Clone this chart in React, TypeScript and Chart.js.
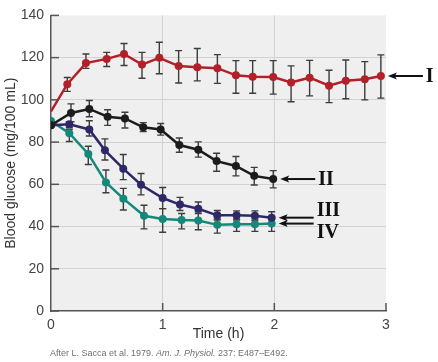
import React, { useEffect, useRef } from "react";
import { Chart, registerables } from "chart.js";

Chart.register(...registerables);

// Time (h) and blood glucose (mg/100 mL) with SEM bounds
const timesI = [0, 0.146, 0.313, 0.499, 0.654, 0.815, 0.97, 1.143, 1.31, 1.49, 1.656, 1.806, 1.99, 2.15, 2.316, 2.49, 2.64, 2.81, 2.954];
const valuesI = [94.5, 107.4, 117.4, 119.4, 121.7, 116.7, 119.9, 116.0, 115.5, 115.0, 111.6, 111.0, 110.8, 108.2, 110.5, 106.7, 109.0, 109.8, 111.3];
const upperI = [null, 110.6, 121.7, 122.5, 126.7, 122.5, 127.3, 123.3, 124.3, 121.4, 118.6, 118.6, 118.6, 116.1, 118.7, 114.0, 118.9, 118.1, 121.3];
const lowerI = [null, 104.0, 114.9, 115.8, 116.3, 110.2, 112.4, 108.0, 109.0, 107.8, 103.1, 103.1, 102.7, 99.1, 101.9, 98.7, 100.5, 100.0, 100.8];

const timesII = [0, 0.179, 0.343, 0.507, 0.662, 0.826, 0.982, 1.149, 1.319, 1.483, 1.656, 1.82, 1.99];
const valuesII = [88, 93.8, 95.7, 92.0, 91.2, 87.0, 86.0, 78.6, 76.4, 71.0, 68.7, 64.0, 62.5];
const upperII = [null, 98.1, 99.7, 95.3, 94.1, 89.2, 88.8, 81.9, 80.1, 74.7, 73.2, 68.0, 66.5];
const lowerII = [null, 89.6, 92.0, 87.9, 86.7, 85.0, 83.3, 75.2, 72.9, 66.2, 64.0, 59.7, 58.3];

const timesIII = [0, 0.164, 0.343, 0.483, 0.647, 0.806, 1.0, 1.155, 1.319, 1.489, 1.662, 1.826, 1.976];
const valuesIII = [88, 88.4, 86.0, 76.1, 67.4, 59.8, 53.5, 50.4, 48.4, 45.3, 45.3, 45.1, 44.2];
const upperIII = [null, 89.6, 90.1, 81.5, 74.1, 65.1, 58.5, 53.8, 51.6, 47.6, 47.4, 47.4, 47.0];
const lowerIII = [null, 86.8, 82.9, 71.5, 62.2, 55.0, 48.5, 47.6, 47.0, 43.1, 43.1, 42.8, 41.7];

const timesIV = [0, 0.164, 0.334, 0.492, 0.648, 0.833, 1.0, 1.17, 1.319, 1.489, 1.662, 1.826, 1.976];
const valuesIV = [90, 84.2, 74.4, 60.9, 53.2, 45.1, 43.6, 43.1, 42.9, 40.8, 41.1, 41.1, 41.4];
const upperIV = [null, 86.0, 78.0, 66.8, 58.1, 50.1, 48.5, 46.2, 46.2, 43.6, 43.6, 43.6, 43.9];
const lowerIV = [null, 80.3, 69.4, 56.0, 47.8, 38.9, 37.3, 38.9, 38.5, 36.9, 37.7, 37.7, 37.7];

const seriesLabels = ["I", "II", "III", "IV"];
const seriesColors = ["#b3202a", "#1c1c1c", "#2e2868", "#14897a"];
const labelShift = [0, 0, -8, 8];

const yTitle = "Blood glucose (mg/100 mL)";
const xTitle = "Time (h)";
const captionParts = [
  { text: "After L. Sacca et al. 1979. ", italic: false },
  { text: "Am. J. Physiol.", italic: true },
  { text: " 237: E487\u2013E492.", italic: false },
];

const seriesTimes = [timesI, timesII, timesIII, timesIV];
const seriesValues = [valuesI, valuesII, valuesIII, valuesIV];
const seriesUpper = [upperI, upperII, upperIII, upperIV];
const seriesLower = [lowerI, lowerII, lowerIII, lowerIV];

const bgPlugin = {
  id: "plotBg",
  beforeDraw(chart: any) {
    const { ctx, chartArea } = chart;
    ctx.save();
    ctx.fillStyle = "#efefef";
    ctx.fillRect(chartArea.left, chartArea.top, chartArea.right - chartArea.left, chartArea.bottom - chartArea.top);
    ctx.restore();
  },
};

const errorBarPlugin = {
  id: "errorBars",
  beforeDatasetsDraw(chart: any) {
    const { ctx } = chart;
    const yScale = chart.scales.y;
    ctx.save();
    ctx.strokeStyle = "#3c3c3c";
    ctx.lineWidth = 1.4;
    chart.data.datasets.forEach((ds: any, di: number) => {
      const meta = chart.getDatasetMeta(di);
      meta.data.forEach((pt: any, i: number) => {
        const up = ds.upper[i];
        const lo = ds.lower[i];
        if (up == null || lo == null) return;
        const x = pt.x;
        const y1 = yScale.getPixelForValue(up);
        const y2 = yScale.getPixelForValue(lo);
        ctx.beginPath();
        ctx.moveTo(x, y1);
        ctx.lineTo(x, y2);
        ctx.moveTo(x - 3.5, y1);
        ctx.lineTo(x + 3.5, y1);
        ctx.moveTo(x - 3.5, y2);
        ctx.lineTo(x + 3.5, y2);
        ctx.stroke();
      });
    });
    ctx.restore();
  },
};

const decorPlugin = {
  id: "decor",
  afterDraw(chart: any) {
    const { ctx, chartArea } = chart;
    const xs = chart.scales.x;
    const ys = chart.scales.y;
    ctx.save();
    // inward tick marks
    ctx.strokeStyle = "#555";
    ctx.lineWidth = 1.5;
    ys.ticks.forEach((t: any) => {
      const y = ys.getPixelForValue(t.value);
      ctx.beginPath();
      ctx.moveTo(chartArea.left, y);
      ctx.lineTo(chartArea.left + 8, y);
      ctx.stroke();
    });
    xs.ticks.forEach((t: any) => {
      if (t.value === 0) return;
      const x = xs.getPixelForValue(t.value);
      ctx.beginPath();
      ctx.moveTo(x, chartArea.bottom);
      ctx.lineTo(x, chartArea.bottom - 8);
      ctx.stroke();
    });
    // arrows with labels
    chart.data.datasets.forEach((ds: any, di: number) => {
      const meta = chart.getDatasetMeta(di);
      const last = meta.data[meta.data.length - 1];
      const tipX = last.x + 7;
      const tailX = tipX + 35;
      const y = last.y;
      ctx.strokeStyle = "#111";
      ctx.fillStyle = "#111";
      ctx.lineWidth = 2;
      ctx.beginPath();
      ctx.moveTo(tipX + 6, y);
      ctx.lineTo(tailX, y);
      ctx.stroke();
      ctx.beginPath();
      ctx.moveTo(tipX, y);
      ctx.lineTo(tipX + 9, y - 3.5);
      ctx.lineTo(tipX + 7, y);
      ctx.lineTo(tipX + 9, y + 3.5);
      ctx.closePath();
      ctx.fill();
      ctx.font = "bold 20px 'Liberation Serif', 'Times New Roman', serif";
      ctx.textAlign = "left";
      ctx.textBaseline = "middle";
      ctx.fillText(ds.label, tailX + 3, y + labelShift[di] + 1);
    });
    // caption
    let cx = 50;
    const cy = 353;
    ctx.fillStyle = "#707070";
    ctx.textBaseline = "alphabetic";
    ctx.textAlign = "left";
    captionParts.forEach((p) => {
      ctx.font = `${p.italic ? "italic " : ""}9px 'Liberation Sans', Arial, sans-serif`;
      ctx.fillText(p.text, cx, cy + 3);
      cx += ctx.measureText(p.text).width;
    });
    ctx.restore();
  },
};

export default function App() {
  const canvasRef = useRef<HTMLCanvasElement | null>(null);

  useEffect(() => {
    if (!canvasRef.current) return;
    const datasets = seriesLabels.map((label, si) => ({
      label,
      data: seriesTimes[si].map((t, i) => ({ x: t, y: seriesValues[si][i] })),
      upper: seriesUpper[si],
      lower: seriesLower[si],
      borderColor: seriesColors[si],
      backgroundColor: seriesColors[si],
      borderWidth: 2.5,
      pointRadius: seriesTimes[si].map((_, i) => (si === 0 && i === 0 ? 0 : 4)),
      pointBorderWidth: 0,
      pointHoverRadius: 4,
      tension: 0,
      fill: false,
      clip: 0,
    }));
    const chart = new Chart(canvasRef.current, {
      type: "line",
      data: { datasets } as any,
      options: {
        animation: false,
        responsive: false,
        maintainAspectRatio: false,
        layout: { padding: { top: 10, right: 52, left: 0, bottom: 0 } },
        plugins: {
          legend: { display: false },
          tooltip: { enabled: false },
        },
        scales: {
          x: {
            type: "linear",
            min: 0,
            max: 3,
            afterFit: (s: any) => {
              s.height = 51;
            },
            ticks: {
              stepSize: 1,
              padding: 6,
              color: "#444",
              font: { family: "'Liberation Sans', Arial, sans-serif", size: 14 },
            },
            grid: {
              drawTicks: false,
              color: (c: any) => (c.tick && (c.tick.value === 0 || c.tick.value === 3) ? "rgba(0,0,0,0)" : "#d2d2d2"),
              lineWidth: 1,
            },
            border: { display: true, color: "#555", width: 1.5 },
            title: {
              display: true,
              text: xTitle,
              color: "#333",
              padding: { top: 0, bottom: 19 },
              font: { family: "'Liberation Sans', Arial, sans-serif", size: 14 },
            },
          },
          y: {
            type: "linear",
            min: 0,
            max: 140,
            afterFit: (s: any) => {
              s.width = 51;
            },
            ticks: {
              stepSize: 20,
              padding: 7,
              color: "#444",
              font: { family: "'Liberation Sans', Arial, sans-serif", size: 14 },
            },
            grid: {
              drawTicks: false,
              color: (c: any) => (c.tick && (c.tick.value === 0 || c.tick.value === 140) ? "rgba(0,0,0,0)" : "#d2d2d2"),
              lineWidth: 1,
            },
            border: { display: true, color: "#555", width: 1.5 },
            title: {
              display: true,
              text: yTitle,
              color: "#333",
              padding: { top: 3, bottom: 0 },
              font: { family: "'Liberation Sans', Arial, sans-serif", size: 14 },
            },
          },
        },
      } as any,
      plugins: [bgPlugin, errorBarPlugin, decorPlugin],
    });
    return () => chart.destroy();
  }, []);

  return (
    <div style={{ position: "absolute", left: 0, top: 0, width: 438, height: 362, background: "#fff" }}>
      <canvas ref={canvasRef} width={438} height={362} style={{ display: "block" }} />
    </div>
  );
}
